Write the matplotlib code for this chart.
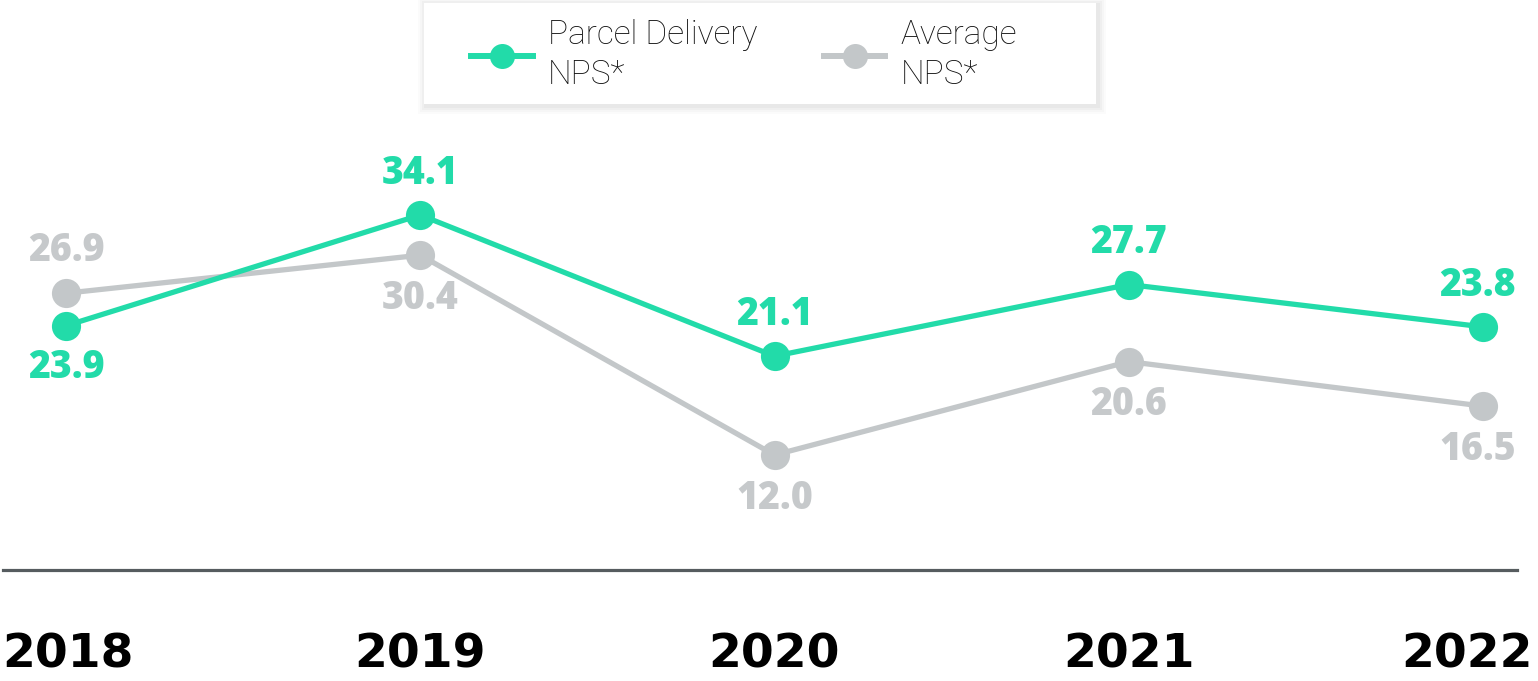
import matplotlib
matplotlib.use("Agg")
import matplotlib.pyplot as plt
from matplotlib.lines import Line2D
from matplotlib.patches import Rectangle

years = ["2018", "2019", "2020", "2021", "2022"]
parcel_nps = [23.9, 34.1, 21.1, 27.7, 23.8]
average_nps = [26.9, 30.4, 12.0, 20.6, 16.5]
series_names = ["Parcel Delivery\nNPS*", "Average\nNPS*"]

GREEN = "#22DBA9"
GRAY = "#C3C7C9"
LABEL_GRAY = "#C6C9CB"

W, H = 1538, 681
fig = plt.figure(figsize=(W / 100, H / 100), dpi=100)
ax = fig.add_axes([0, 0, 1, 1])
ax.set_axis_off()

x = list(range(len(years)))
px_per_unit = 354.25
ax.set_xlim(-66 / px_per_unit, (W - 66) / px_per_unit)
ax.set_ylim(12.0 - (H - 455) / 10.86, 34.1 + 215 / 10.86)

ax.plot(x, average_nps, color=GRAY, lw=3.8, marker="o", ms=21,
        markeredgewidth=0, solid_capstyle="round", zorder=2)
ax.plot(x, parcel_nps, color=GREEN, lw=3.8, marker="o", ms=21,
        markeredgewidth=0, solid_capstyle="round", zorder=3)

label_font = dict(family="Open Sans", fontweight=800, fontsize=27)
# label above (+1) or below (-1)
parcel_pos = [-1, 1, 1, 1, 1]
avg_pos = [1, -1, -1, -1, -1]
for i in x:
    dx = -4 if i == len(x) - 1 else 0
    ax.annotate(f"{parcel_nps[i]:.1f}", (x[i], parcel_nps[i]),
                xytext=(dx, 30 * parcel_pos[i]), textcoords="offset points",
                ha="center", va="center", color=GREEN, **label_font)
    ax.annotate(f"{average_nps[i]:.1f}", (x[i], average_nps[i]),
                xytext=(dx, 31 * avg_pos[i]), textcoords="offset points",
                ha="center", va="center", color=LABEL_GRAY, **label_font)

# baseline
fig.add_artist(Line2D([3 / W, 1517 / W], [1 - 570 / H, 1 - 570 / H],
                      color="#565C5F", lw=2.3, transform=fig.transFigure))

# year labels
year_font = dict(family="DejaVu Sans", fontweight="bold", fontsize=34, color="black")
yl = 1 - 655 / H
for i, yr in enumerate(years):
    if i == len(years) - 1:
        fig.text(1533 / W, yl, yr, ha="right", va="center", **year_font)
    elif i == 0:
        fig.text(2 / W, yl, yr, ha="left", va="center", **year_font)
    else:
        ax.text(x[i], yl, yr, ha="center", va="center",
                transform=ax.get_xaxis_transform(), **year_font)

# legend box with soft shadow
bx0, by0, bx1, by1 = 424, 3, 1096, 104
for k, a in enumerate([0.03, 0.04, 0.05, 0.06]):
    g = 8 - 2 * k
    fig.add_artist(Rectangle(((bx0 - g + 2) / W, 1 - (by1 + g + 2) / H),
                             (bx1 - bx0 + 2 * g) / W, (by1 - by0 + 2 * g) / H,
                             transform=fig.transFigure, facecolor="#808080",
                             edgecolor="none", alpha=a, zorder=0))
fig.add_artist(Rectangle((bx0 / W, 1 - by1 / H), (bx1 - bx0) / W, (by1 - by0) / H,
                         transform=fig.transFigure, facecolor="white",
                         edgecolor="none", zorder=1))

handles = [Line2D([], [], color=GREEN, lw=4.3, marker="o", ms=18, markeredgewidth=0),
           Line2D([], [], color=GRAY, lw=4.3, marker="o", ms=18, markeredgewidth=0)]
leg = fig.legend(handles, series_names, loc="center", ncol=2,
                 bbox_to_anchor=(744 / W, 1 - 55 / H), frameon=False,
                 handlelength=1.85, handletextpad=0.45, columnspacing=2.0,
                 prop=dict(family="Roboto", weight="light", size=24))
leg.set_zorder(5)
for t in leg.get_texts():
    t.set_color("#111111")
    t.set_linespacing(1.3)

fig.savefig("out.png", dpi=100, facecolor="white")
